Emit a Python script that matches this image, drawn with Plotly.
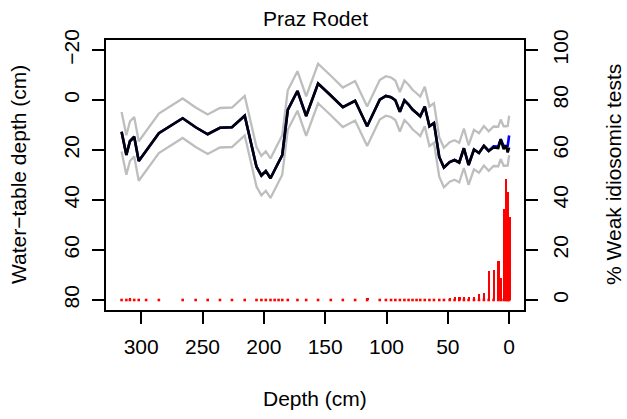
import plotly.graph_objects as go

# Core sample depths (cm)
depth = [316.0, 312.1, 309.2, 305.7, 302.0, 296.0, 285.6, 266.2, 255.6, 245.8,
         235.8, 226.0, 215.6, 206.0, 202.0, 198.4, 194.6, 191.2, 188.0, 185.0,
         180.5, 172.6, 165.5, 155.8, 145.4, 135.6, 125.6, 115.8, 105.5, 100.5,
         96.3, 92.8, 89.1, 85.4, 82.0, 78.8, 75.5, 72.5, 68.8, 65.0,
         61.3, 57.0, 53.2, 48.5, 44.5, 40.7, 36.9, 33.1, 28.7, 24.6,
         20.6, 16.7, 12.7, 8.9, 6.9, 4.5, 2.6, 1.2, 0.0]

# Reconstructed water-table depth, all tests (cm)
wt_all = [12.7, 22.0, 16.5, 14.7, 24.4, 20.3, 13.3, 7.3, 10.9, 13.7,
          11.1, 10.9, 6.3, 26.7, 30.2, 28.4, 31.3, 28.0, 25.0, 22.0,
          4.0, -3.6, 6.4, -6.6, -1.8, 2.9, 0.3, 10.5, -0.1, -1.6,
          -1.1, 0.1, 4.7, 0.1, 1.8, 3.8, 5.2, 6.5, 2.6, 10.5,
          9.2, 22.8, 27.0, 24.8, 24.0, 25.0, 19.3, 26.0, 19.8, 21.2,
          18.3, 20.4, 18.5, 18.6, 15.7, 18.4, 18.4, 18.3, 14.2]

# Reconstructed water-table depth, weak idiosomic tests excluded (cm)
wt_excl = [12.7, 22.0, 16.5, 14.7, 24.4, 20.3, 13.3, 7.3, 10.9, 13.7,
           11.1, 10.9, 6.3, 26.7, 30.2, 28.4, 31.3, 28.0, 25.0, 22.0,
           4.0, -3.6, 6.4, -6.6, -1.8, 2.9, 0.3, 10.5, -0.1, -1.6,
           -1.1, 0.1, 4.7, 0.1, 1.8, 3.8, 5.2, 6.5, 2.6, 10.5,
           9.2, 22.8, 27.0, 24.8, 24.0, 25.0, 19.3, 26.0, 19.8, 21.2,
           18.3, 20.4, 19.0, 19.2, 15.7, 19.6, 18.2, 21.0, 19.0]

# Percentage of weak idiosomic tests per sample
pct_weak = [0, 0, 0.6, 0, 0, 0, 0, 0, 0, 0,
            0, 0, 0, 0, 0, 0, 0, 0, 0, 0,
            0, 0, 0, 0, 0, 0, 0, 1.0, 0, 0,
            0, 0, 0, 0, 0, 0, 0, 0, 0, 0,
            0, 0, 0, 0.5, 1.3, 1.3, 1.2, 1.2, 1.3, 2.4,
            2.7, 11.6, 12.1, 15.6, 8.9, 36.3, 48.4, 43.4, 33.1]

# Root mean square error of prediction of the transfer function (cm)
rmsep = 7.9

x_ticks = [0, 50, 100, 150, 200, 250, 300]
y_ticks = [-20, 0, 20, 40, 60, 80]
y2_ticks = [0, 20, 40, 60, 80, 100]

FONT = "Liberation Sans, Arial, Helvetica, sans-serif"
FS = 21

upper = [v - rmsep for v in wt_all]
lower = [v + rmsep for v in wt_all]

fig = go.Figure()
fig.add_trace(go.Scatter(x=depth, y=upper, mode="lines",
                         line=dict(color="#BEBEBE", width=2.3), showlegend=False))
fig.add_trace(go.Scatter(x=depth, y=lower, mode="lines",
                         line=dict(color="#BEBEBE", width=2.3), showlegend=False))
fig.add_trace(go.Scatter(x=depth, y=wt_all, mode="lines",
                         line=dict(color="#0000FF", width=2.6), showlegend=False))
fig.add_trace(go.Scatter(x=depth, y=wt_excl, mode="lines",
                         line=dict(color="#000000", width=2.6), showlegend=False))
fig.add_trace(go.Bar(x=depth, y=pct_weak, yaxis="y2", width=1.5,
                     marker=dict(color="#FF0000", line=dict(width=0)),
                     showlegend=False))
# rounded line ends of the percentage spikes (visible where the value is zero)
fig.add_trace(go.Scatter(x=depth, y=[0] * len(depth), yaxis="y2", mode="markers",
                         marker=dict(symbol="square", size=2.6, color="#FF0000"),
                         showlegend=False))

axis_common = dict(
    showgrid=False, zeroline=False, showline=True, linecolor="black",
    linewidth=1.8, ticks="outside", ticklen=12, tickwidth=1.8, tickcolor="black",
    tickfont=dict(family=FONT, size=FS, color="black"),
)

plot_w = 627 - 106 - 103
plot_h = 419 - 40 - 109
title_font = dict(family=FONT, size=FS, color="black")

fig.update_layout(
    width=627, height=419,
    margin=dict(l=106, r=103, t=40, b=109),
    paper_bgcolor="white", plot_bgcolor="white",
    bargap=0,
    xaxis=dict(range=[328.7, -12.1], tickvals=x_ticks, mirror=True,
               ticklabelstandoff=5, **axis_common),
    yaxis=dict(range=[84, -24], tickvals=y_ticks, tickangle=-90, mirror=True,
               ticklabelstandoff=5, **axis_common),
    yaxis2=dict(range=[-4, 104], tickvals=y2_ticks, tickangle=-90,
                overlaying="y", side="right", ticklabelstandoff=5, **axis_common),
    annotations=[
        dict(text="Praz Rodet", x=0.5, xref="paper", y=1 + (40 - 18) / plot_h,
             yref="paper", xanchor="center", yanchor="middle",
             showarrow=False, font=title_font),
        dict(text="Depth (cm)", x=0.5, xref="paper", y=-(398 - 310) / plot_h,
             yref="paper", xanchor="center", yanchor="middle",
             showarrow=False, font=title_font),
        dict(text="Water\u2212table depth (cm)", x=-(106 - 18) / plot_w, xref="paper",
             y=0.5, yref="paper", xanchor="center", yanchor="middle",
             textangle=-90, showarrow=False, font=title_font),
        dict(text="% Weak idiosomic tests", x=1 + (613 - 524) / plot_w, xref="paper",
             y=0.5, yref="paper", xanchor="center", yanchor="middle",
             textangle=-90, showarrow=False, font=title_font),
    ],
)

fig.write_html("out.html")
